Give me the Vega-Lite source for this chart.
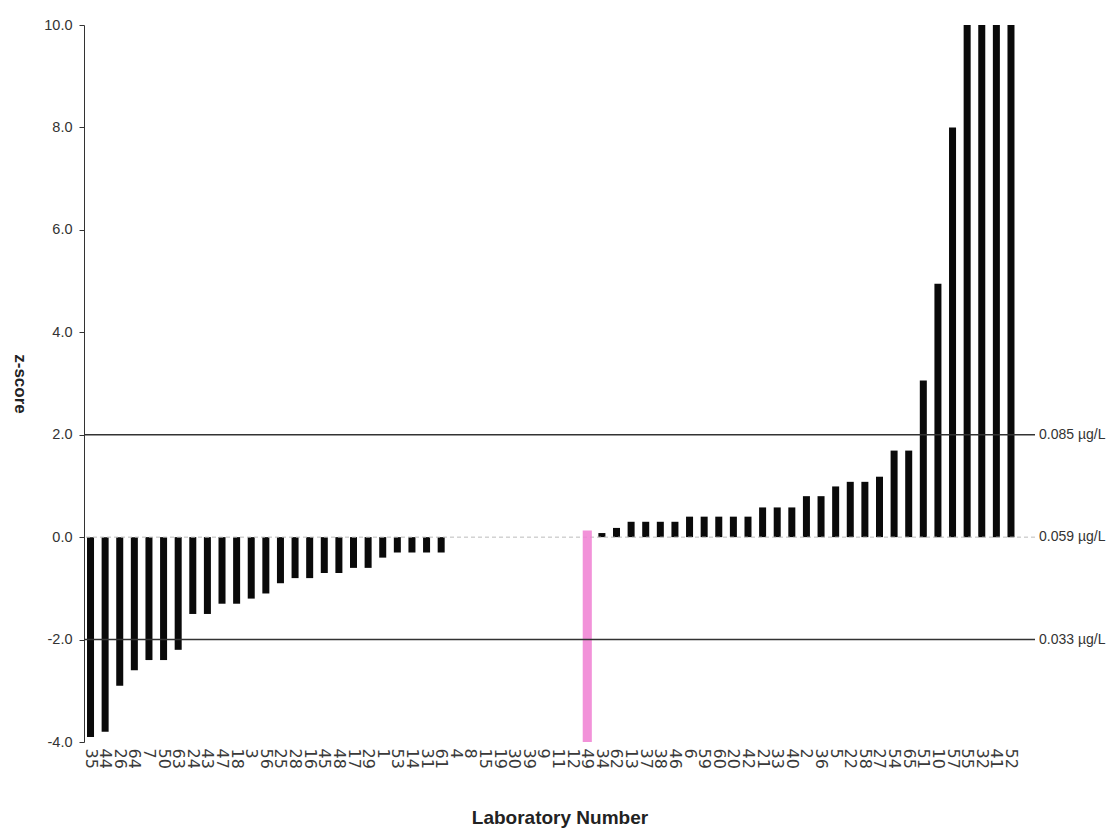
{
  "$schema": "https://vega.github.io/schema/vega-lite/v6.json",
  "autosize": {"type": "none"},
  "padding": {"left": 84, "top": 25, "right": 80, "bottom": 92},
  "width": 951,
  "height": 717,
  "background": "white",
  "config": {
    "view": {"stroke": null},
    "font": "Liberation Sans",
    "locale": {"number": {"decimal": ".", "thousands": ",", "grouping": [3], "currency": ["$", ""], "minus": "-"}}
  },
  "datasets": {
    "labs": [
      {"lab": "35", "z": -3.9}, {"lab": "44", "z": -3.8}, {"lab": "26", "z": -2.9}, {"lab": "64", "z": -2.6},
      {"lab": "7", "z": -2.4}, {"lab": "50", "z": -2.4}, {"lab": "63", "z": -2.2}, {"lab": "24", "z": -1.5},
      {"lab": "43", "z": -1.5}, {"lab": "47", "z": -1.3}, {"lab": "18", "z": -1.3}, {"lab": "3", "z": -1.2},
      {"lab": "56", "z": -1.1}, {"lab": "25", "z": -0.9}, {"lab": "28", "z": -0.8}, {"lab": "16", "z": -0.8},
      {"lab": "45", "z": -0.7}, {"lab": "48", "z": -0.7}, {"lab": "17", "z": -0.6}, {"lab": "29", "z": -0.6},
      {"lab": "1", "z": -0.4}, {"lab": "53", "z": -0.3}, {"lab": "14", "z": -0.3}, {"lab": "31", "z": -0.3},
      {"lab": "61", "z": -0.3}, {"lab": "4", "z": 0}, {"lab": "8", "z": 0}, {"lab": "15", "z": 0},
      {"lab": "19", "z": 0}, {"lab": "30", "z": 0}, {"lab": "39", "z": 0}, {"lab": "9", "z": 0},
      {"lab": "11", "z": 0}, {"lab": "12", "z": 0}, {"lab": "49", "z": 0, "flag_top": 0.13, "flag_bottom": -4},
      {"lab": "34", "z": 0.08}, {"lab": "62", "z": 0.18}, {"lab": "13", "z": 0.3}, {"lab": "37", "z": 0.3},
      {"lab": "38", "z": 0.3}, {"lab": "46", "z": 0.3}, {"lab": "6", "z": 0.4}, {"lab": "59", "z": 0.4},
      {"lab": "60", "z": 0.4}, {"lab": "20", "z": 0.4}, {"lab": "42", "z": 0.4}, {"lab": "21", "z": 0.58},
      {"lab": "33", "z": 0.58}, {"lab": "40", "z": 0.58}, {"lab": "2", "z": 0.8}, {"lab": "36", "z": 0.8},
      {"lab": "5", "z": 0.99}, {"lab": "22", "z": 1.08}, {"lab": "58", "z": 1.08}, {"lab": "27", "z": 1.18},
      {"lab": "54", "z": 1.69}, {"lab": "65", "z": 1.69}, {"lab": "51", "z": 3.06}, {"lab": "10", "z": 4.95},
      {"lab": "57", "z": 8.0}, {"lab": "55", "z": 10}, {"lab": "32", "z": 10}, {"lab": "41", "z": 10},
      {"lab": "52", "z": 10}
    ],
    "limits": [
      {"z": 2, "conc": "0.085 µg/L", "kind": "limit"},
      {"z": 0, "conc": "0.059 µg/L", "kind": "assigned"},
      {"z": -2, "conc": "0.033 µg/L", "kind": "limit"}
    ]
  },
  "layer": [
    {
      "data": {"name": "labs"},
      "mark": {"type": "bar", "color": "#0a0a0a"},
      "encoding": {
        "x": {
          "field": "lab", "type": "nominal", "sort": null,
          "scale": {"paddingInner": 0.52, "paddingOuter": 0.805, "align": 0.128},
          "axis": {
            "title": "Laboratory Number", "titleFontSize": 19, "titleFontWeight": "bold", "titleColor": "#222",
            "titlePadding": 40, "labelAngle": 90, "labelFont": "DejaVu Sans", "labelFontSize": 16,
            "labelColor": "#3a3a3a", "labelPadding": 6, "domain": false, "ticks": false
          }
        },
        "y": {
          "field": "z", "type": "quantitative",
          "scale": {"domain": [-4, 10], "nice": false},
          "axis": {
            "title": "z-score", "titleAngle": 90, "titleFontSize": 17, "titleFontWeight": "bold", "titleColor": "#222",
            "titlePadding": 33, "values": [-4, -2, 0, 2, 4, 6, 8, 10], "format": ".1f", "grid": false,
            "labelFontSize": 14.5, "labelColor": "#333", "labelPadding": 7, "tickSize": 5,
            "domainColor": "#333", "tickColor": "#333"
          }
        }
      }
    },
    {
      "data": {"name": "limits"},
      "transform": [{"filter": "datum.kind == 'assigned'"}],
      "mark": {"type": "rule", "color": "#bbbbbb", "strokeDash": [4, 3], "strokeWidth": 1},
      "encoding": {"y": {"field": "z", "type": "quantitative"}}
    },
    {
      "data": {"name": "labs"},
      "transform": [{"filter": "isValid(datum.flag_top)"}],
      "mark": {"type": "bar", "color": "#f07fd2", "opacity": 0.85, "width": {"band": 1.3}},
      "encoding": {
        "x": {"field": "lab", "type": "nominal", "sort": null},
        "y": {"field": "flag_top", "type": "quantitative"},
        "y2": {"field": "flag_bottom"}
      }
    },
    {
      "data": {"name": "limits"},
      "transform": [{"filter": "datum.kind == 'limit'"}],
      "mark": {"type": "rule", "color": "#333333", "strokeWidth": 1.5},
      "encoding": {"y": {"field": "z", "type": "quantitative"}}
    },
    {
      "data": {"name": "limits"},
      "mark": {"type": "text", "align": "left", "baseline": "middle", "dx": 4, "fontSize": 14, "color": "#333"},
      "encoding": {
        "x": {"value": "width"},
        "y": {"field": "z", "type": "quantitative"},
        "text": {"field": "conc"}
      }
    }
  ]
}
